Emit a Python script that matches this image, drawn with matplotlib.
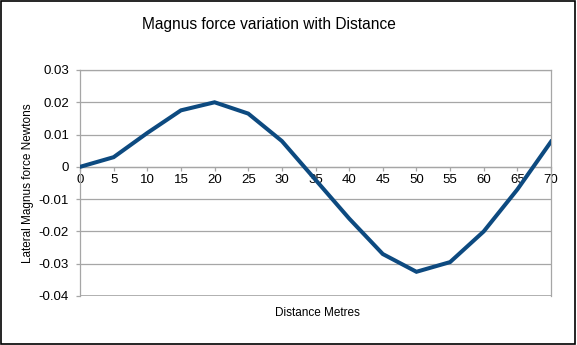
import matplotlib
matplotlib.use("Agg")
import matplotlib.pyplot as plt
from matplotlib.patches import Rectangle

#--------------------------------------------------
#datos
distancia = [0, 5, 10, 15, 20, 25, 30, 35, 40, 45, 50, 55, 60, 65, 70]
fuerza = [0.0, 0.003, 0.0105, 0.0175, 0.020, 0.0165, 0.008, -0.004,
          -0.016, -0.027, -0.0325, -0.0295, -0.020, -0.007, 0.0078]
yticks = [0.03, 0.02, 0.01, 0, -0.01, -0.02, -0.03, -0.04]
ytick_labels = ["0.03", "0.02", "0.01", "0", "-0.01", "-0.02", "-0.03", "-0.04"]

plt.rcParams['font.family'] = ['Liberation Sans', 'DejaVu Sans']

#--------------------------------------------------
fig = plt.figure(figsize=(5.77, 3.45), dpi=100)
ax = fig.add_axes([80/577, 1-296/345, 471/577, 226/345])

gris = "#a6a6a6"
ax.plot(distancia, fuerza, color="#0d4a80", lw=2.9, solid_joinstyle="miter", zorder=3)

ax.set_xlim(0, 70)
ax.set_ylim(-0.04, 0.03)
ax.set_xticks(distancia)
ax.set_yticks(yticks)
ax.set_yticklabels(ytick_labels)
ax.grid(axis="y", color=gris, lw=0.9)
ax.set_axisbelow(True)

for lado in ["left", "right", "top", "bottom"]:
    ax.spines[lado].set_color(gris)
    ax.spines[lado].set_linewidth(0.9)
ax.spines["bottom"].set_position(("data", 0))

ax.tick_params(axis="both", colors=gris, labelcolor="black", labelsize=9.5,
               length=3, width=0.9, direction="out")
ax.tick_params(axis="x", pad=2)
ax.tick_params(axis="y", pad=5)

# linea gris inferior en -0.04
ax.axhline(-0.04, color=gris, lw=1.2)

fig.text(269/577, 1-24/345, "Magnus force variation with Distance",
         ha="center", va="center", fontsize=11.2)
fig.text(317/577, 1-313/345, "Distance Metres", ha="center", va="center", fontsize=8.5)
fig.text(28/577, 1-183/345, "Lateral Magnus force Newtons", ha="center", va="center",
         rotation=90, fontsize=8.5)

fig.patches.append(Rectangle((0.002, 0.003), 0.995, 0.994, transform=fig.transFigure,
                             fill=False, edgecolor="black", lw=1.2))

fig.savefig("out.png", dpi=100)
